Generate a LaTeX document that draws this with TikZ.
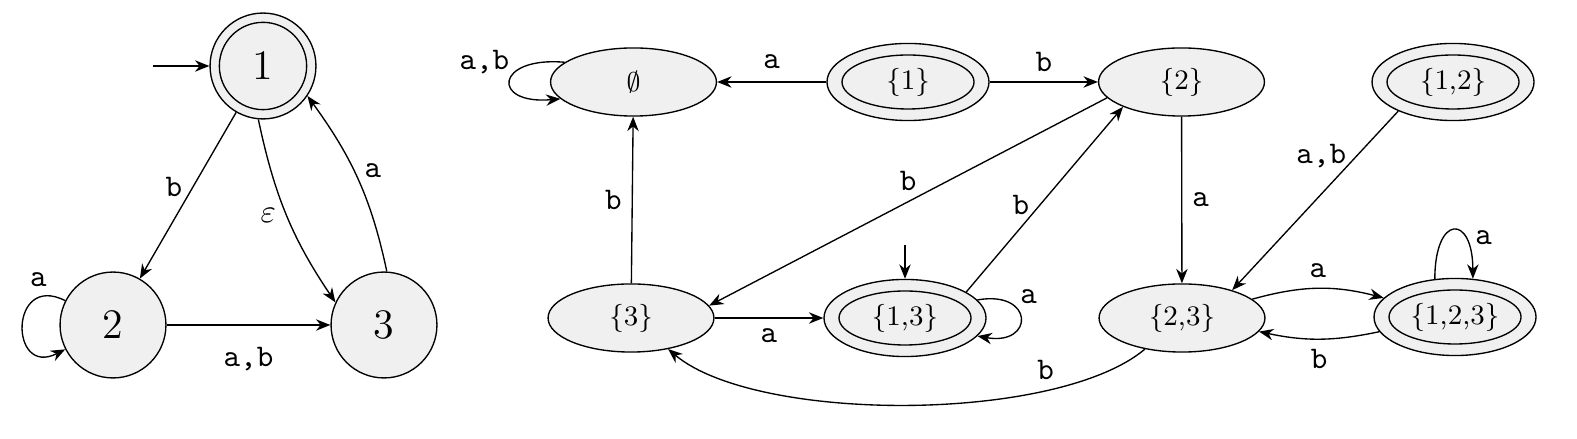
\documentclass[tikz,border=0pt]{standalone}
\usetikzlibrary{shapes.geometric,arrows.meta}
\definecolor{statefill}{RGB}{240,240,240}
\begin{document}
\begin{tikzpicture}[x=0.33333pt,y=0.33333pt,line width=0.45pt,
  >={Stealth[length=4.8pt,width=3.8pt]},
  st/.style={circle,draw,fill=statefill,inner sep=0pt,minimum size=35.3pt,font=\fontsize{14}{16}\selectfont},
  stin/.style={circle,draw,fill=statefill,inner sep=0pt,minimum size=29.1pt,font=\fontsize{14}{16}\selectfont},
  es/.style={ellipse,draw,fill=statefill,inner sep=0pt,minimum width=55.3pt,minimum height=22.7pt,font=\fontsize{9.4}{11}\selectfont},
  esout/.style={ellipse,draw,fill=statefill,inner sep=0pt,minimum width=54pt,minimum height=25.7pt},
  esin/.style={ellipse,draw,fill=statefill,inner sep=0pt,minimum width=44pt,minimum height=18pt,font=\fontsize{9.4}{11}\selectfont},
  lab/.style={font=\fontsize{10.5}{12}\selectfont\ttfamily}
]
\useasboundingbox (0,-439) rectangle (1577,0);

% ---- NFA ----
\node[st] (q1) at (263,-66) {};
\node[stin] (q1i) at (q1) {1};
\node[st] (q2) at (113,-325) {2};
\node[st] (q3) at (384,-325) {3};
\coordinate (i1) at (153,-66);

\draw[->] (i1) -- (q1);
\draw[->] (q1) -- node[lab,left,pos=0.45]{b} (q2);
\draw[->] (q1.265) to[out=282,in=124] node[left,pos=0.5,font=\fontsize{10.5}{12}\selectfont]{$\varepsilon$} (q3.155);
\draw[->] (q3.87) to[out=102,in=306] node[lab,right,pos=0.55]{a} (q1.326);
\draw[->] (q2.153) .. controls +(153:63) and +(207:63) .. node[lab,above,pos=0.2]{a} (q2.207);
\draw[->] (q2) -- node[lab,below=4pt]{a,b} (q3);

% ---- DFA ----
\node[es] (e) at (633.5,-82) {$\emptyset$};
\node[esout] (s1) at (908,-82) {};
\node[esin] (s1i) at (s1) {\{1\}};
\node[es] (s2) at (1181.5,-82) {\{2\}};
\node[esout] (s12) at (1453,-82) {};
\node[esin] (s12i) at (s12) {\{1,2\}};
\node[es] (s3) at (631,-318) {\{3\}};
\node[esout] (s13) at (905,-318) {};
\node[esin] (s13i) at (s13) {\{1,3\}};
\node[es] (s23) at (1182,-318) {\{2,3\}};
\node[esout] (s123) at (1455,-317) {};
\node[esin] (s123i) at (s123) {\{1,2,3\}};
\coordinate (i13) at (905,-245);

\draw[->] (e.164) .. controls +(175:70) and +(185:70) .. node[lab,left,pos=0.3,yshift=2.3pt]{a,b} (e.193);
\draw[->] (s1) -- node[lab,above=1pt]{a} (e);
\draw[->] (s1) -- node[lab,above]{b} (s2);
\draw[->] (s2.192) -- node[lab,above,pos=0.5]{b} (s3.9);
\draw[->] (s13.23) -- node[lab,left,pos=0.47]{b} (s2.203);
\draw[->] (s3) -- node[lab,left]{b} (e);
\draw[->] (s3) -- node[lab,below]{a} (s13);
\draw[->] (i13) -- (s13);
\draw[->] (s13.14) .. controls +(10:58) and +(-10:58) .. node[lab,right,pos=0.25,yshift=2pt]{a} (s13.-14);
\draw[->] (s2) -- node[lab,right]{a} (s23);
\draw[->] (s12.208) -- node[lab,left,pos=0.25]{a,b} (s23.29);
\draw[->] (s23.15) to[bend left=15] node[lab,above]{a} (s123.165);
\draw[->] (s123.191) to[bend left=12] node[lab,below]{b} (s23.350);
\draw[->] (s123.118) .. controls +(90:65) and +(90:65) .. node[lab,right,pos=0.7]{a} (s123.65);
\draw[->] (s23) to[out=220,in=320,looseness=0.62] node[lab,above,pos=0.25]{b} (s3);
\end{tikzpicture}
\end{document}
